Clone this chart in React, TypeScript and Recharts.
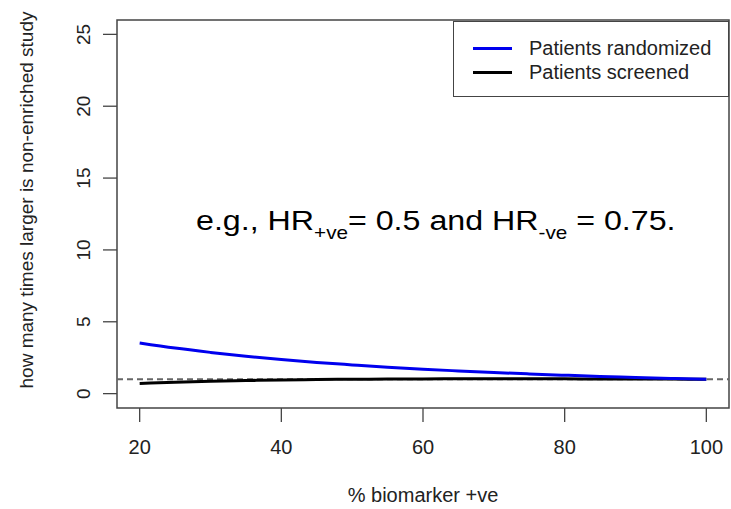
import React from "react";
import { LineChart, Line, XAxis, YAxis, ReferenceLine, ReferenceArea, Legend } from "recharts";

const pctPositive = [20, 25, 30, 35, 40, 45, 50, 55, 60, 65, 70, 75, 80, 85, 90, 95, 100];
const randomized = [3.53, 3.17, 2.87, 2.6, 2.37, 2.17, 2.0, 1.84, 1.7, 1.58, 1.47, 1.37, 1.28, 1.2, 1.13, 1.06, 1.0];
const screened = [0.71, 0.79, 0.86, 0.91, 0.95, 0.98, 1.0, 1.01, 1.02, 1.03, 1.03, 1.03, 1.03, 1.02, 1.02, 1.01, 1.0];
const xTicks = [20, 40, 60, 80, 100];
const yTicks = [0, 5, 10, 15, 20, 25];
const seriesNames = ["Patients randomized", "Patients screened"];
const seriesColors = ["#0000ee", "#000000"];

const data = pctPositive.map((p, i) => ({ p, randomized: randomized[i], screened: screened[i] }));

const FONT = "'Liberation Sans', Arial, Helvetica, sans-serif";
const X_DOMAIN: [number, number] = [16.8, 103.2];
const Y_DOMAIN: [number, number] = [-1, 26];

const YTick = (props: any) => {
  const { x, y, payload } = props;
  return (
    <text
      x={x}
      y={y}
      transform={`rotate(-90 ${x} ${y})`}
      textAnchor="middle"
      fontSize={19}
      fontFamily={FONT}
      fill="#222"
    >
      {payload.value}
    </text>
  );
};

const XTick = (props: any) => {
  const { x, y, payload } = props;
  return (
    <text x={x} y={y + 14} textAnchor="middle" fontSize={20} fontFamily={FONT} fill="#222">
      {payload.value}
    </text>
  );
};

const LegendBox = () => (
  <div
    style={{
      width: 276,
      height: 76,
      boxSizing: "border-box",
      border: "1px solid #444",
      background: "#fff",
      position: "relative",
      fontFamily: FONT,
    }}
  >
    {seriesNames.map((name, i) => (
      <div key={name} style={{ position: "absolute", left: 0, top: 14 + i * 24, height: 24, width: 276 }}>
        <div
          style={{
            position: "absolute",
            left: 19,
            top: 11,
            width: 39,
            height: 2.5,
            background: seriesColors[i],
          }}
        />
        <div
          style={{
            position: "absolute",
            left: 75,
            top: 0,
            lineHeight: "24px",
            fontSize: 20,
            color: "#222",
            whiteSpace: "nowrap",
          }}
        >
          {name}
        </div>
      </div>
    ))}
  </div>
);

export default function App() {
  return (
    <div style={{ position: "absolute", left: 0, top: 0, width: 731, height: 509, background: "#fff" }}>
      <LineChart
        width={731}
        height={509}
        data={data}
        margin={{ top: 20, right: 2, left: 0, bottom: 0 }}
      >
        <XAxis
          dataKey="p"
          type="number"
          domain={X_DOMAIN}
          ticks={xTicks}
          allowDataOverflow
          height={101}
          axisLine={false}
          tickSize={14}
          tickMargin={18}
          tickLine={{ stroke: "#444", strokeWidth: 1.3 }}
          tick={<XTick />}
          label={{
            content: (props: any) => {
              const vb = props.viewBox || { x: 117, width: 612 };
              return (
                <g>
                  <text
                    x={vb.x + vb.width / 2}
                    y={502}
                    textAnchor="middle"
                    fontSize={20}
                    fontFamily={FONT}
                    fill="#222"
                  >
                    % biomarker +ve
                  </text>
                  <text
                    x={0}
                    y={0}
                    transform="translate(196 230) scale(1.15 1)"
                    fontSize={28}
                    fontFamily={FONT}
                    fill="#000"
                  >
                    <tspan>e.g., HR</tspan>
                    <tspan fontSize={18} dy={9}>+ve</tspan>
                    <tspan dy={-9}>= 0.5 and HR</tspan>
                    <tspan fontSize={18} dy={9}>-ve</tspan>
                    <tspan dy={-9}> = 0.75.</tspan>
                  </text>
                </g>
              );
            },
          }}
        />
        <YAxis
          type="number"
          domain={Y_DOMAIN}
          ticks={yTicks}
          allowDataOverflow
          width={117}
          axisLine={false}
          tickSize={14}
          tickMargin={13}
          tickLine={{ stroke: "#444", strokeWidth: 1.3 }}
          tick={<YTick />}
          label={{
            content: () => (
              <text
                x={33}
                y={200}
                transform="rotate(-90 33 200)"
                textAnchor="middle"
                fontSize={19}
                fontFamily={FONT}
                fill="#222"
              >
                how many times larger is non-enriched study
              </text>
            ),
          }}
        />
        <ReferenceArea
          x1={X_DOMAIN[0]}
          x2={X_DOMAIN[1]}
          y1={Y_DOMAIN[0]}
          y2={Y_DOMAIN[1]}
          fill="none"
          fillOpacity={0}
          stroke="#444"
          strokeWidth={1.5}
          ifOverflow="visible"
        />
        <ReferenceLine y={1} stroke="#666" strokeWidth={2} strokeDasharray="6 4" />
        <Line
          dataKey="screened"
          name={seriesNames[1]}
          stroke={seriesColors[1]}
          strokeWidth={3}
          dot={false}
          type="monotone"
          isAnimationActive={false}
        />
        <Line
          dataKey="randomized"
          name={seriesNames[0]}
          stroke={seriesColors[0]}
          strokeWidth={3}
          dot={false}
          type="monotone"
          isAnimationActive={false}
        />
        <Legend
          layout="vertical"
          align="center"
          verticalAlign="middle"
          content={<LegendBox />}
          wrapperStyle={{ position: "absolute", left: 453, top: 21, width: 276, height: 76 }}
        />
      </LineChart>
    </div>
  );
}
